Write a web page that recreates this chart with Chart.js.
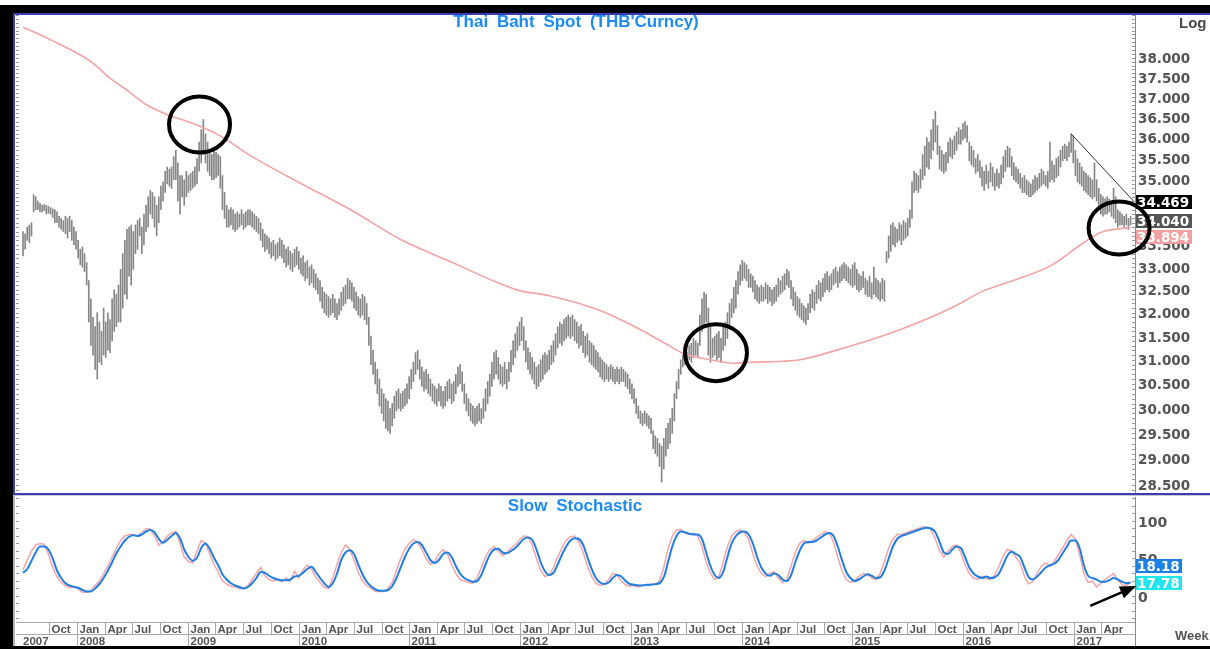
<!DOCTYPE html>
<html>
<head>
<meta charset="utf-8">
<script src="https://cdn.jsdelivr.net/npm/chart.js@4.4.1/dist/chart.umd.min.js"></script>
<style>
  html, body { margin: 0; padding: 0; background: #fff; }
  body { width: 1210px; height: 649px; position: relative; overflow: hidden; font-family: "Liberation Sans", Arial, sans-serif; }
  .abs { position: absolute; }
  #frame { left: 0; top: 5px; width: 1210px; height: 644px; background: #000; }
  #inner { left: 13px; top: 13px; width: 1197px; height: 633px; background: #fff; }
  #pricePanel { left: 13px; top: 13px; width: 1195px; height: 478px; border-top: 2px solid #3c3cb4; border-left: 2px solid #3c3cb4; border-bottom: 2px solid #3c3cb4; }
  #stochPanel { left: 13px; top: 495px; width: 1195px; height: 150px; border-left: 2px solid #b4b4b4; border-top: 1px solid #c8c8c8; }
  canvas { position: absolute; left: 0; top: 0; }
  .title { color: #1c8cf5; font-weight: bold; font-size: 17px; word-spacing: 4px; text-align: center; white-space: nowrap; line-height: 18px; }
  .axisword { color: #4a4a4a; font-weight: bold; white-space: nowrap; }
</style>
</head>
<body>
<div id="frame" class="abs"></div>
<div id="inner" class="abs"></div>
<div id="pricePanel" class="abs"><canvas id="price" width="1195" height="478"></canvas></div>
<div id="stochPanel" class="abs"><canvas id="stoch" width="1195" height="150"></canvas></div>
<div class="abs title" style="left:0;width:1152px;top:13px;">Thai Baht Spot (THB'Curncy)</div>
<div class="abs title" style="left:0;width:1150px;top:497px;">Slow Stochastic</div>
<div class="abs axisword" style="left:1179px;top:14px;font-size:15px;">Log</div>
<div class="abs axisword" style="left:1175px;top:628px;font-size:13px;color:#555;">Week</div>

<script>
// weekly bars, first bar is the week of 2007-07-06
const weekStart = '2007-07-06';

const priceHigh = [
  33.80,33.75,33.90,33.95,34.00,34.65,34.60,34.50,34.45,34.40,
  34.42,34.40,34.38,34.35,34.32,34.30,34.25,34.15,34.10,34.05,
  34.15,34.10,34.15,34.05,33.90,33.80,33.60,33.40,33.45,33.30,
  33.10,32.70,32.30,31.90,31.70,32.00,31.80,31.60,32.10,31.80,
  32.00,31.85,32.30,32.50,32.40,32.60,32.95,33.30,33.60,33.85,
  33.90,33.95,33.80,33.95,34.05,34.10,33.90,34.20,34.40,34.60,
  34.75,34.70,34.60,34.40,34.60,34.85,34.95,35.20,35.30,35.25,
  35.30,35.55,35.70,35.40,35.10,35.10,35.00,35.20,35.10,35.15,
  35.20,35.30,35.50,35.90,36.20,36.45,36.10,35.90,35.70,35.60,
  35.70,35.65,35.60,35.55,35.10,34.70,34.40,34.30,34.35,34.30,
  34.20,34.25,34.20,34.30,34.20,34.25,34.30,34.30,34.25,34.20,
  34.15,34.10,34.00,33.85,33.75,33.70,33.65,33.55,33.60,33.50,
  33.55,33.65,33.60,33.50,33.40,33.45,33.35,33.30,33.40,33.45,
  33.35,33.20,33.25,33.10,33.15,33.00,33.05,32.95,32.85,32.75,
  32.70,32.55,32.45,32.40,32.35,32.30,32.40,32.30,32.20,32.30,
  32.45,32.55,32.60,32.75,32.70,32.65,32.55,32.45,32.35,32.30,
  32.40,32.35,32.20,31.90,31.50,31.20,30.95,30.80,30.60,30.40,
  30.30,30.20,30.15,30.00,30.10,30.25,30.35,30.40,30.30,30.35,
  30.40,30.50,30.65,30.80,30.95,31.15,31.20,31.00,30.85,30.75,
  30.80,30.70,30.60,30.50,30.45,30.40,30.50,30.45,30.35,30.45,
  30.55,30.60,30.50,30.55,30.70,30.85,30.90,30.75,30.50,30.30,
  30.20,30.10,30.05,30.00,30.05,30.10,30.00,30.20,30.40,30.55,
  30.70,30.95,31.15,31.20,31.05,30.90,30.85,30.95,30.80,30.95,
  31.20,31.40,31.55,31.70,31.80,31.90,31.70,31.40,31.25,31.15,
  31.05,30.95,30.85,30.90,31.00,31.10,31.15,31.10,31.20,31.30,
  31.40,31.55,31.70,31.80,31.75,31.85,31.90,31.95,31.90,31.95,
  31.85,31.80,31.70,31.75,31.60,31.50,31.55,31.40,31.35,31.30,
  31.20,31.15,31.05,31.00,30.95,30.90,30.85,30.90,30.85,30.80,
  30.85,30.80,30.85,30.80,30.75,30.70,30.60,30.50,30.40,30.20,
  30.05,29.95,29.90,29.95,29.90,29.85,29.80,29.55,29.45,29.40,
  29.30,29.25,29.40,29.60,29.70,29.80,30.00,30.30,30.55,30.80,
  31.00,31.10,31.20,31.15,31.30,31.35,31.45,31.40,31.35,31.95,
  32.30,32.45,32.40,32.10,31.70,31.45,31.50,31.55,31.60,31.45,
  31.70,31.80,32.00,32.20,32.30,32.55,32.70,32.90,33.05,33.15,
  33.10,33.05,32.95,32.85,32.80,32.70,32.60,32.55,32.60,32.55,
  32.65,32.60,32.55,32.50,32.55,32.60,32.75,32.70,32.80,32.85,
  32.95,32.90,32.70,32.55,32.45,32.35,32.30,32.20,32.15,32.10,
  32.20,32.40,32.50,32.45,32.60,32.70,32.65,32.75,32.85,32.90,
  32.80,32.85,32.95,33.00,32.90,33.00,33.05,33.10,33.05,33.00,
  32.95,33.05,33.10,32.95,32.85,32.80,32.90,32.75,32.70,32.80,
  32.65,33.00,32.75,32.70,32.65,32.75,32.70,33.35,33.70,33.95,
  34.00,33.90,33.85,34.00,33.95,34.05,34.00,34.10,34.30,34.95,
  35.20,35.15,35.10,35.25,35.60,35.80,36.00,35.90,36.20,36.45,
  36.65,36.30,35.80,35.70,35.60,35.65,35.90,36.00,35.95,36.05,
  36.15,36.25,36.20,36.35,36.40,36.30,35.90,35.80,35.70,35.50,
  35.60,35.45,35.30,35.20,35.35,35.20,35.40,35.30,35.15,35.25,
  35.15,35.35,35.55,35.70,35.80,35.75,35.55,35.40,35.30,35.25,
  35.15,35.05,35.10,35.00,34.95,34.90,35.00,35.10,35.05,35.15,
  35.25,35.20,35.10,35.20,35.90,35.45,35.35,35.50,35.55,35.70,
  35.80,35.85,35.80,35.90,36.10,36.05,35.70,35.50,35.40,35.30,
  35.20,35.15,35.10,35.05,35.00,35.40,35.00,34.80,34.65,34.60,
  34.55,34.60,34.55,34.50,34.80,34.60,34.30,34.25,34.20,34.15,
  34.20,34.10,34.15
];

const priceLow = [
  33.25,33.40,33.60,33.55,33.70,34.25,34.30,34.30,34.25,34.25,
  34.28,34.20,34.22,34.20,34.12,34.00,34.00,33.90,33.85,33.80,
  33.75,33.65,33.80,33.60,33.50,33.40,33.20,33.05,33.00,32.90,
  32.60,31.80,31.30,31.10,30.80,30.60,30.95,30.90,31.10,31.05,
  31.20,31.15,31.40,31.60,31.70,31.80,31.80,32.10,32.40,32.30,
  32.80,32.60,32.95,33.30,33.40,33.70,33.30,33.50,33.80,33.90,
  34.20,34.10,33.90,33.70,34.00,34.30,34.50,34.70,34.90,34.85,
  34.80,35.00,35.00,34.50,34.20,34.60,34.40,34.60,34.70,34.75,
  34.80,34.85,34.90,35.20,35.40,35.60,35.40,35.20,35.10,35.00,
  35.00,35.05,35.10,34.80,34.30,34.10,33.90,33.90,33.95,33.85,
  33.80,33.85,33.90,33.95,33.85,33.90,33.95,33.95,33.90,33.85,
  33.80,33.75,33.60,33.45,33.35,33.40,33.30,33.20,33.25,33.15,
  33.20,33.25,33.20,33.10,33.00,33.05,32.95,32.90,33.00,33.05,
  32.95,32.85,32.80,32.70,32.75,32.60,32.65,32.55,32.50,32.40,
  32.25,32.10,32.00,31.95,31.90,31.95,32.00,31.90,31.85,31.95,
  32.05,32.15,32.20,32.30,32.30,32.25,32.10,32.05,31.95,31.90,
  31.95,31.85,31.75,31.30,30.90,30.70,30.50,30.30,30.05,29.90,
  29.75,29.60,29.55,29.50,29.65,29.80,29.95,30.00,29.95,30.00,
  30.05,30.10,30.20,30.40,30.55,30.70,30.80,30.60,30.45,30.35,
  30.40,30.30,30.25,30.15,30.10,30.05,30.15,30.05,30.00,30.05,
  30.15,30.20,30.10,30.15,30.30,30.45,30.50,30.35,30.10,29.95,
  29.85,29.75,29.70,29.65,29.70,29.75,29.70,29.80,29.95,30.10,
  30.25,30.45,30.60,30.70,30.60,30.50,30.45,30.50,30.40,30.55,
  30.75,30.90,31.05,31.20,31.30,31.40,31.20,30.95,30.80,30.70,
  30.60,30.50,30.40,30.45,30.55,30.60,30.70,30.75,30.80,30.90,
  30.95,31.10,31.25,31.35,31.30,31.40,31.45,31.50,31.45,31.50,
  31.40,31.35,31.25,31.30,31.15,31.05,31.10,30.95,30.90,30.85,
  30.80,30.75,30.65,30.60,30.55,30.60,30.55,30.60,30.55,30.50,
  30.55,30.50,30.55,30.55,30.45,30.40,30.30,30.20,30.10,29.90,
  29.80,29.70,29.65,29.70,29.65,29.60,29.50,29.20,29.10,29.05,
  28.85,28.55,28.80,29.05,29.20,29.30,29.50,29.75,30.20,30.40,
  30.70,30.85,30.90,30.95,31.00,30.95,31.05,31.10,31.05,31.30,
  31.60,31.75,31.80,31.10,30.95,31.05,31.10,31.00,31.05,30.95,
  31.20,31.30,31.45,31.70,31.90,32.00,32.10,32.40,32.60,32.70,
  32.75,32.70,32.55,32.55,32.45,32.30,32.25,32.20,32.25,32.25,
  32.30,32.20,32.25,32.15,32.20,32.25,32.35,32.40,32.45,32.50,
  32.60,32.55,32.30,32.15,32.05,31.95,31.90,31.85,31.80,31.75,
  31.85,32.00,32.10,32.05,32.20,32.30,32.25,32.35,32.45,32.50,
  32.45,32.50,32.60,32.65,32.55,32.65,32.70,32.75,32.70,32.65,
  32.60,32.55,32.60,32.50,32.45,32.50,32.55,32.40,32.35,32.35,
  32.30,32.40,32.35,32.30,32.25,32.30,32.25,33.10,33.20,33.35,
  33.50,33.45,33.55,33.60,33.50,33.60,33.65,33.70,33.90,34.10,
  34.70,34.75,34.70,34.80,35.00,35.10,35.30,35.25,35.50,35.70,
  35.90,35.60,35.25,35.20,35.15,35.20,35.40,35.55,35.50,35.60,
  35.70,35.85,35.85,35.95,36.00,35.90,35.45,35.35,35.30,35.15,
  35.20,35.05,34.85,34.75,34.90,34.80,34.95,34.85,34.75,34.85,
  34.80,34.90,35.05,35.20,35.30,35.30,35.10,35.00,34.95,34.90,
  34.80,34.70,34.70,34.65,34.60,34.60,34.65,34.70,34.75,34.80,
  34.85,34.90,34.85,34.80,34.95,35.00,34.95,35.05,35.10,35.30,
  35.45,35.50,35.45,35.55,35.65,35.40,35.10,34.95,34.90,34.85,
  34.75,34.70,34.65,34.60,34.55,34.60,34.50,34.30,34.20,34.15,
  34.20,34.20,34.25,34.15,34.10,34.00,33.90,33.95,33.95,33.90,
  33.95,33.85,33.95
];

// long moving average (week index, value)
const maWeek  = [0, 13, 32, 41, 49, 58, 68, 77, 85, 93, 107, 131, 154, 178, 201, 225, 234, 248, 272, 288, 304, 311, 324, 335, 343, 358, 366, 390, 413, 437, 453, 469, 484, 500, 508, 522];
const maValue = [38.79, 38.46, 37.90, 37.48, 37.18, 36.82, 36.57, 36.41, 36.25, 36.05, 35.58, 34.91, 34.31, 33.62, 33.13, 32.63, 32.48, 32.37, 32.05, 31.71, 31.31, 31.14, 31.00, 30.93, 30.95, 30.97, 31.00, 31.29, 31.63, 32.09, 32.48, 32.74, 33.02, 33.55, 33.78, 33.894];

// hand drawn down trend line
const trendWeek  = [494, 524];
const trendValue = [36.10, 34.47];

// slow stochastic, one sample every 2 weeks
const stochStep = 2;
const stochK = [
  35,48,60,68,70,69,56,38,26,18, 14,11,13,9,5,5,7,14,20,30,
  40,52,64,74,80,82,82,80,85,90, 89,80,68,72,80,84,86,70,52,46,
  44,60,74,70,56,42,32,20,16,13, 12,10,10,14,22,30,38,27,22,20,
  22,19,24,20,33,24,35,41,36,25, 18,12,10,24,42,58,68,62,48,32,
  20,14,10,6,6,6,10,18,34,50, 62,70,75,72,62,50,42,46,56,62,
  56,42,30,22,20,18,17,24,38,52, 62,66,60,54,58,64,68,75,80,79,
  68,50,34,26,28,38,52,64,74,79, 80,72,58,40,26,17,14,16,22,30,
  28,20,15,13,14,12,15,14,16,15, 20,38,62,80,88,89,84,82,84,80,
  66,45,30,22,26,45,66,80,86,88, 85,76,56,40,30,26,30,32,24,18,
  22,40,58,70,74,70,74,78,82,86, 84,72,52,34,22,18,20,26,30,28,
  24,22,30,46,64,76,82,82,84,86, 88,90,92,92,88,76,60,52,60,66,
  68,58,42,30,24,22,26,23,22,28, 40,54,62,60,52,44,26,16,20,30,
  40,44,40,46,55,64,74,82,76,55, 30,18,20,12,17,22,26,30,22,15,
  14,17.78
];
const stochD = [
  31,36,47,58,66,66,62,50,34,24, 17,14,12,11,8,6,6,10,16,24,
  34,45,57,66,74,79,81,80,82,86, 88,85,76,71,75,80,84,77,62,52,
  47,51,64,70,63,51,41,29,22,17, 14,12,10,12,17,24,32,31,27,24,
  22,21,21,22,26,27,31,36,39,32, 24,17,12,17,30,48,58,61,56,42,
  29,19,13,9,7,7,8,13,24,38, 52,63,70,72,68,58,48,44,48,56,
  58,52,40,30,24,21,19,20,28,42, 55,62,63,58,57,60,64,70,76,78,
  75,62,45,33,28,31,42,55,66,74, 77,76,68,52,36,24,18,16,18,24,
  28,26,20,16,15,14,14,15,15,16, 17,25,45,66,80,86,85,83,82,82,
  76,58,40,28,24,32,52,70,80,85, 86,82,70,52,38,30,27,30,28,22,
  20,28,45,60,70,72,72,74,78,82, 84,80,66,48,32,24,20,22,26,29,
  27,24,25,34,50,66,76,80,82,84, 86,88,90,91,90,85,72,58,56,62,
  66,64,52,38,30,26,24,26,24,25, 30,42,54,59,56,52,38,25,22,26,
  32,38,41,43,48,57,66,74,74,64, 41,27,24,22,19,19,21,24,22,19,
  17,18.18
];

const priceTicks = [28.5, 29, 29.5, 30, 30.5, 31, 31.5, 32, 32.5, 33, 33.5, 34, 34.5, 35, 35.5, 36, 36.5, 37, 37.5, 38];
const stochTicks = [0, 50, 100];
const quarterMonths = [0, 3, 6, 9];
const monthNames = ['Jan', 'Apr', 'Jul', 'Oct'];
const years = [2007, 2008, 2009, 2010, 2011, 2012, 2013, 2014, 2015, 2016, 2017];

const lastTrend = 34.469, lastClose = 34.040, lastMA = 33.894;
const lastD = 18.18, lastK = 17.78;

// ---- helpers -------------------------------------------------------------
const t0 = Date.parse(weekStart + 'T00:00:00Z');
const weekOf = (y, m) => (Date.UTC(y, m, 1) - t0) / (7 * 864e5);
const xMin = -3.3, xMax = 524.1;
const tickFont = { family: 'DejaVu Sans', weight: 'bold', size: 13.5 };
const axisGray = '#8a8a8a';

const bars = priceHigh.map((h, i) => ({ x: i, y: [priceLow[i], h] }));
const maData = maWeek.map((w, i) => ({ x: w, y: maValue[i] }));
const trendData = trendWeek.map((w, i) => ({ x: w, y: trendValue[i] }));
const kData = stochK.map((v, i) => ({ x: i * stochStep, y: v }));
const dData = stochD.map((v, i) => ({ x: i * stochStep, y: v }));

// right axis: fixed width, no extra room reserved for edge labels
const fitRight = s => { s.width = 75; s.paddingTop = 0; s.paddingBottom = 0; };

function drawTags(chart, tags, width) {
  const { ctx, scales: { y } } = chart;
  ctx.save();
  ctx.font = 'bold 13.5px "DejaVu Sans"';
  ctx.textBaseline = 'middle';
  ctx.textAlign = 'left';
  tags.forEach(t => {
    const py = Math.round(y.getPixelForValue(t.value) + t.shift);
    ctx.fillStyle = t.bg;
    ctx.fillRect(y.left + 1, py - 7, width, 14);
    ctx.fillStyle = '#fff';
    ctx.fillText(t.value.toFixed(t.digits), y.left + 2, py + 1);
  });
  ctx.restore();
}

function minorTicks(chart, values, len) {
  const { ctx, chartArea, scales: { y } } = chart;
  ctx.save();
  ctx.strokeStyle = '#9a9a9a';
  ctx.lineWidth = 1;
  ctx.beginPath();
  values.forEach(v => {
    const py = Math.round(y.getPixelForValue(v)) + 0.5;
    if (py < chartArea.top || py > chartArea.bottom) return;
    ctx.moveTo(y.left - len, py); ctx.lineTo(y.left, py);
    ctx.moveTo(chartArea.left, py); ctx.lineTo(chartArea.left + len, py);
  });
  ctx.stroke();
  ctx.restore();
}

// annotations drawn on the price panel
const priceRings = [
  { week: 83.2, value: 36.33, rx: 30.5, ry: 28 },
  { week: 326.6, value: 31.15, rx: 31, ry: 28.5 },
  { week: 516.6, value: 33.88, rx: 30.5, ry: 26.5 }
];

const priceOverlay = {
  id: 'priceOverlay',
  afterDraw(chart) {
    const { ctx, scales: { x, y } } = chart;
    const minor = [];
    for (let v = 284; v <= 391; v++) minor.push(v / 10);
    minorTicks(chart, minor, 3);
    drawTags(chart, [
      { value: lastTrend, digits: 3, bg: '#000', shift: 0 },
      { value: lastClose, digits: 3, bg: '#555', shift: 0 },
      { value: lastMA, digits: 3, bg: '#f5a0a0', shift: 10 }
    ], 56);
    ctx.save();
    ctx.strokeStyle = '#000';
    ctx.lineWidth = 4;
    priceRings.forEach(r => {
      ctx.beginPath();
      ctx.ellipse(x.getPixelForValue(r.week), y.getPixelForValue(r.value), r.rx, r.ry, 0, 0, Math.PI * 2);
      ctx.stroke();
    });
    ctx.restore();
  }
};

const stochOverlay = {
  id: 'stochOverlay',
  afterDraw(chart) {
    const { ctx, chartArea, scales: { x, y } } = chart;
    const minor = [];
    for (let v = -30; v <= 130; v += 10) minor.push(v);
    minorTicks(chart, minor, 3);

    // two row date axis
    const b = Math.round(chartArea.bottom) + 0.5;
    const row = 12;
    ctx.save();
    ctx.strokeStyle = '#a8a8a8';
    ctx.lineWidth = 1;
    ctx.beginPath();
    ctx.moveTo(chartArea.left, b); ctx.lineTo(chartArea.right, b);
    ctx.moveTo(chartArea.left, b + row); ctx.lineTo(chartArea.right, b + row);
    ctx.stroke();
    ctx.strokeStyle = axisGray;
    ctx.beginPath();
    ctx.moveTo(Math.round(y.left) + 0.5, b); ctx.lineTo(Math.round(y.left) + 0.5, chart.height);
    ctx.stroke();

    ctx.fillStyle = '#555';
    ctx.font = 'bold 11.5px "Liberation Sans", Arial';
    ctx.textBaseline = 'middle';
    ctx.textAlign = 'left';
    ctx.strokeStyle = '#a8a8a8';
    years.forEach(yr => {
      quarterMonths.forEach((m, qi) => {
        const w = weekOf(yr, m);
        if (w < 0) return;
        const px = Math.round(x.getPixelForValue(w)) + 0.5;
        if (px + 22 > chartArea.right) return;
        ctx.beginPath();
        ctx.moveTo(px, b); ctx.lineTo(px, b + (m === 0 ? 2 * row : row));
        ctx.stroke();
        ctx.fillText(monthNames[qi], px + 2, b + row / 2 + 1);
        if (m === 0) ctx.fillText(String(yr), px + 2, b + row * 1.5 + 1);
      });
    });
    ctx.fillText(String(years[0]), chartArea.left + 7, b + row * 1.5 + 1);
    ctx.restore();

    drawTags(chart, [
      { value: lastD, digits: 2, bg: '#1a7fe6', shift: -16 },
      { value: lastK, digits: 2, bg: '#22e6ee', shift: 0 }
    ], 46);

    // arrow pointing at the last stochastic value
    const ax0 = x.getPixelForValue(503), ay0 = y.getPixelForValue(-13.3);
    const ax1 = x.getPixelForValue(524.6), ay1 = y.getPixelForValue(13.3);
    const ang = Math.atan2(ay1 - ay0, ax1 - ax0);
    ctx.save();
    ctx.strokeStyle = '#000';
    ctx.fillStyle = '#000';
    ctx.lineWidth = 2.5;
    ctx.beginPath();
    ctx.moveTo(ax0, ay0);
    ctx.lineTo(ax1 - 12 * Math.cos(ang), ay1 - 12 * Math.sin(ang));
    ctx.stroke();
    ctx.beginPath();
    ctx.moveTo(ax1, ay1);
    ctx.lineTo(ax1 - 16 * Math.cos(ang) + 6.5 * Math.sin(ang), ay1 - 16 * Math.sin(ang) - 6.5 * Math.cos(ang));
    ctx.lineTo(ax1 - 16 * Math.cos(ang) - 6.5 * Math.sin(ang), ay1 - 16 * Math.sin(ang) + 6.5 * Math.cos(ang));
    ctx.closePath();
    ctx.fill();
    ctx.restore();
  }
};

const common = {
  responsive: false,
  animation: false,
  events: [],
  plugins: { legend: { display: false }, tooltip: { enabled: false } }
};

new Chart(document.getElementById('price'), {
  type: 'bar',
  data: {
    datasets: [
      { type: 'bar', data: bars, backgroundColor: '#868686', barThickness: 1, grouped: false, order: 3 },
      { type: 'line', data: maData, borderColor: '#f5a3a3', borderWidth: 1.6, pointRadius: 0, cubicInterpolationMode: 'monotone', order: 2 },
      { type: 'line', data: trendData, borderColor: '#333', borderWidth: 1, pointRadius: 0, order: 1 }
    ]
  },
  options: {
    ...common,
    layout: { padding: { left: 1, right: 0, top: 0, bottom: 1 } },
    scales: {
      x: { type: 'linear', display: false, min: xMin, max: xMax, offset: false },
      y: {
        type: 'logarithmic', position: 'right', min: 28.358, max: 39.11,
        afterFit: fitRight,
        afterBuildTicks: s => { s.ticks = priceTicks.map(v => ({ value: v })); },
        ticks: { callback: v => Number(v).toFixed(3), font: tickFont, color: '#555', padding: 3, labelOffset: 2, autoSkip: false },
        grid: { drawOnChartArea: false, drawTicks: false },
        border: { color: axisGray }
      }
    }
  },
  plugins: [priceOverlay]
});

new Chart(document.getElementById('stoch'), {
  type: 'line',
  data: {
    datasets: [
      { data: kData, borderColor: '#f7a4a4', borderWidth: 1.5, pointRadius: 0, tension: 0, order: 2 },
      { data: dData, borderColor: '#1e7fe6', borderWidth: 2, pointRadius: 0, cubicInterpolationMode: 'monotone', order: 1 }
    ]
  },
  options: {
    ...common,
    layout: { padding: { left: 1, right: 0, top: 1, bottom: 24 } },
    scales: {
      x: { type: 'linear', display: false, min: xMin, max: xMax, offset: false },
      y: {
        position: 'right', min: -34.67, max: 132,
        afterFit: fitRight,
        afterBuildTicks: s => { s.ticks = stochTicks.map(v => ({ value: v })); },
        ticks: { font: { family: 'DejaVu Sans', weight: 'bold', size: 14 }, color: '#555', padding: 3, labelOffset: 2, autoSkip: false },
        grid: { drawOnChartArea: false, drawTicks: false },
        border: { color: axisGray }
      }
    }
  },
  plugins: [stochOverlay]
});
</script>
</body>
</html>
